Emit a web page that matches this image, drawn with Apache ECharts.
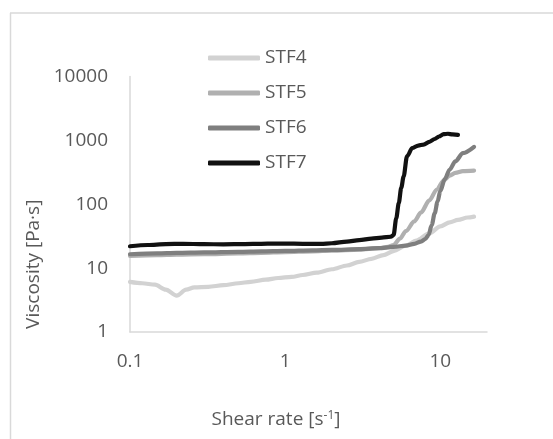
<!DOCTYPE html>
<html>
<head>
<meta charset="utf-8">
<script src="https://cdn.jsdelivr.net/npm/echarts@6/dist/echarts.min.js"></script>
<style>html,body{margin:0;padding:0;background:#fff}#c{width:553px;height:439px}</style>
</head>
<body>
<div id="c"></div>
<script>
const seriesNames = ['STF4', 'STF5', 'STF6', 'STF7'];
const xTickLabels = [0.1, 1, 10];
const yTickLabels = [1, 10, 100, 1000, 10000];

const stf4X = [0.1,0.12,0.145,0.17,0.2,0.23,0.26,0.32,0.4,0.5,0.6,0.75,0.9,1.1,1.3,1.6,2.0,2.5,3.0,3.6,4.3,5.0,6.0,7.0,8.5,10,11.5,13,15,16.5];
const stf4Y = [6.1,5.8,5.5,4.6,3.7,4.6,5.0,5.1,5.4,5.8,6.1,6.6,7.0,7.3,7.8,8.5,9.6,11,12.5,14,16,18.5,22.5,27,35,45,52,57,62,64];

const stf5X = [0.1,0.15,0.2,0.3,0.5,0.7,1,1.5,2,3,4,4.6,5.0,5.5,6.0,6.8,7.5,8.5,9.5,10.5,11.5,12.5,14,16.5];
const stf5Y = [15.5,16,16.3,16.5,17,17.3,17.8,18.3,18.8,19.5,20.5,21.5,23,29,38,54,74,115,170,235,280,310,330,335];

const stf6X = [0.1,0.15,0.2,0.3,0.5,0.7,1,1.5,2,3,4,5,6,6.8,7.5,8.0,8.4,8.8,9.2,9.6,10,10.7,11.5,12.5,14,16.5];
const stf6Y = [16.5,17,17.3,17.6,18,18.3,18.6,19,19.3,19.8,20.5,21.5,22.5,24,26,28.5,33,47,72,110,160,250,350,470,630,790];

const stf7X = [0.1,0.13,0.17,0.22,0.3,0.4,0.55,0.7,0.85,1,1.3,1.7,2.0,2.5,3.0,3.6,4.2,4.8,5.0,5.2,5.4,5.6,5.8,6.1,6.6,7.2,7.8,8.5,9.2,9.8,10.5,11.2,12,13];
const stf7Y = [22,23,23.8,24,23.7,23.6,23.8,24,24.2,24.2,24,24,24.5,26,27.5,29,30,31,33,60,104,180,270,560,760,830,860,950,1050,1150,1250,1270,1240,1220];

const colors = ['#d2d2d2', '#b0b0b0', '#7f7f7f', '#111111'];
const textColor = '#595959';
const FONT = 'Open Sans';

function pairs(xs, ys) { return xs.map((x, i) => [x, ys[i]]); }
const allX = [stf4X, stf5X, stf6X, stf7X];
const allY = [stf4Y, stf5Y, stf6Y, stf7Y];

function tickFmt(list) {
  return function (v) {
    for (const t of list) { if (Math.abs(v - t) / t < 1e-6) return String(t); }
    return '';
  };
}

const chart = echarts.init(document.getElementById('c'), null, { renderer: 'canvas' });
chart.setOption({
  animation: false,
  backgroundColor: '#ffffff',
  textStyle: { fontFamily: FONT },
  graphic: [
    { type: 'line', shape: { x1: 10, y1: 13, x2: 553, y2: 13 }, style: { stroke: '#d9d9d9', lineWidth: 1.5 }, silent: true },
    { type: 'line', shape: { x1: 10.5, y1: 13, x2: 10.5, y2: 439 }, style: { stroke: '#d9d9d9', lineWidth: 1.5 }, silent: true }
  ],
  legend: {
    orient: 'vertical',
    left: 203,
    top: 43,
    itemWidth: 52,
    itemHeight: 5,
    itemGap: 15,
    icon: 'roundRect',
    textStyle: { fontFamily: FONT, fontSize: 19, color: textColor, lineHeight: 20 },
    data: seriesNames
  },
  grid: { left: 130, right: 66, top: 76.5, bottom: 107, containLabel: false },
  xAxis: {
    type: 'log',
    logBase: 10,
    min: 0.1,
    max: 20,
    name: 'Shear rate [s{sup|-1}]',
    nameLocation: 'middle',
    nameGap: 78,
    nameTextStyle: {
      fontFamily: FONT, fontSize: 19, color: textColor, padding: [0, 65, 0, 0],
      rich: { sup: { fontFamily: FONT, fontSize: 12, color: textColor, verticalAlign: 'top' } }
    },
    axisLine: { show: true, lineStyle: { color: '#d9d9d9', width: 1.5 } },
    axisTick: { show: false },
    splitLine: { show: false },
    minorTick: { show: false },
    axisLabel: { fontFamily: FONT, fontSize: 19, color: textColor, margin: 20, formatter: tickFmt(xTickLabels), showMaxLabel: false }
  },
  yAxis: {
    type: 'log',
    logBase: 10,
    min: 1,
    max: 10000,
    name: 'Viscosity [Pa·s]',
    nameLocation: 'middle',
    nameGap: 73,
    nameTextStyle: { fontFamily: FONT, fontSize: 19, color: textColor, padding: [0, 120, 0, 0] },
    axisLine: { show: true, lineStyle: { color: '#d9d9d9', width: 1.5 } },
    axisTick: { show: false },
    splitLine: { show: false },
    axisLabel: { fontFamily: FONT, fontSize: 19, color: textColor, margin: 22, formatter: tickFmt(yTickLabels) }
  },
  series: seriesNames.map((n, i) => ({
    name: n,
    type: 'line',
    data: pairs(allX[i], allY[i]),
    showSymbol: false,
    symbol: 'none',
    smooth: 0.3,
    smoothMonotone: 'x',
    color: colors[i],
    lineStyle: { color: colors[i], width: 4.2, cap: 'round', join: 'round' },
    itemStyle: { color: colors[i] },
    z: 2 + i
  }))
});
</script>
</body>
</html>
